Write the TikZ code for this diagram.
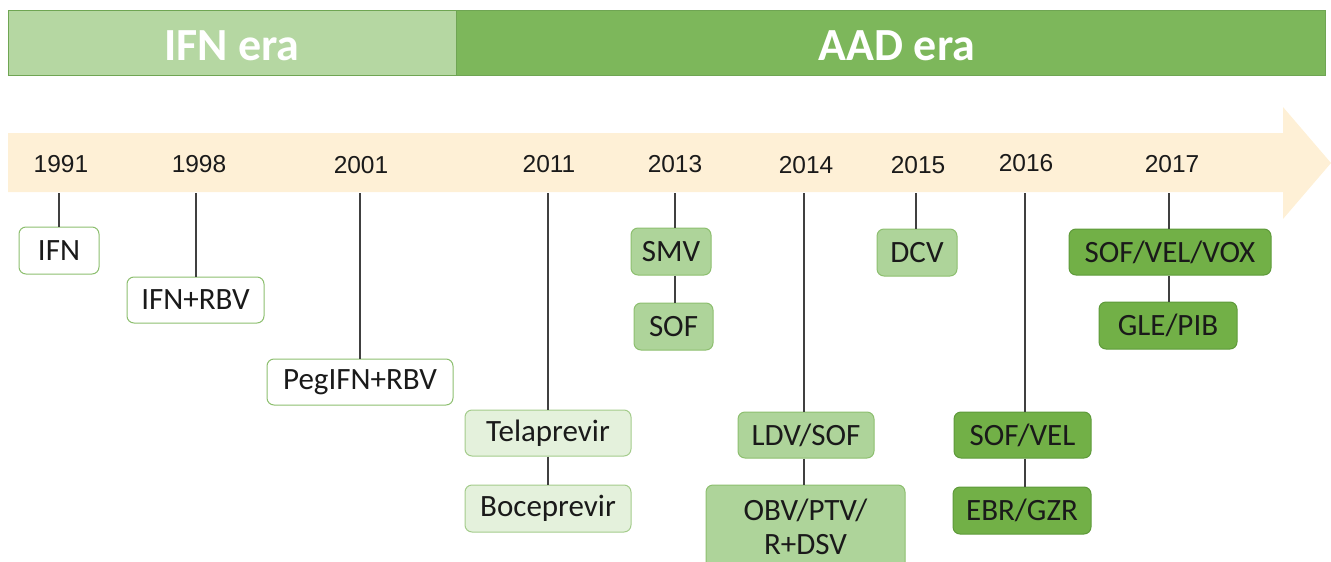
\documentclass[tikz,border=0pt]{standalone}
\usepackage{fontspec}
\newfontfamily\calfont{Carlito}
\newfontfamily\arifont{Liberation Sans}
\definecolor{bannerL}{HTML}{B5D7A2}
\definecolor{bannerD}{HTML}{7DB75B}
\definecolor{bannerEdge}{HTML}{6FA553}
\definecolor{arrowfill}{HTML}{FEF0D6}
\definecolor{edgeG}{HTML}{8DBF6F}
\definecolor{fillL}{HTML}{E4F1DC}
\definecolor{fillM}{HTML}{AED49A}
\definecolor{fillD}{HTML}{72B047}
\definecolor{edgeD}{HTML}{5E9A3A}
\definecolor{linec}{HTML}{404040}
\definecolor{txt}{HTML}{1A1A1A}
\tikzset{
  banner/.style={draw=bannerEdge, line width=1pt, minimum height=65pt, inner sep=0pt},
  bannertext/.style={inner sep=0pt, text=white, font=\calfont\bfseries\fontsize{46}{52}\selectfont},
  yearlbl/.style={font=\arifont\fontsize{24.5}{28}\selectfont, text=txt, inner sep=0pt},
  drug/.style={rectangle, rounded corners=7pt, line width=1pt, inner sep=0pt, text=txt, font=\calfont\fontsize{31}{34}\selectfont},
  wbox/.style={drug, draw=edgeG, fill=white},
  lbox/.style={drug, draw=edgeG!80, fill=fillL},
  mbox/.style={drug, draw=edgeG, fill=fillM},
  dbox/.style={drug, draw=edgeD, fill=fillD},
  conn/.style={draw=linec, line width=1.2pt},
}
\begin{document}
\begin{tikzpicture}[x=1pt,y=-1pt]
\useasboundingbox (0,0) rectangle (1331,562);
% banners
\node[banner, fill=bannerL, minimum width=448pt] (ifnera) at (232,42.5) {};
\node[banner, fill=bannerD, minimum width=869pt] (aadera) at (890.5,42.5) {};
\node[bannertext] (ifnlbl) at (232,46) {IFN era};
\node[bannertext] (aadlbl) at (897,46) {AAD era};
% timeline arrow
\fill[arrowfill] (8,133) -- (1283,133) -- (1283,107) -- (1331,163) -- (1283,219) -- (1283,192) -- (8,192) -- cycle;
% years
\node[yearlbl] (y1991) at (61,164) {1991};
\node[yearlbl] (y1998) at (199,164) {1998};
\node[yearlbl] (y2001) at (361,165) {2001};
\node[yearlbl] (y2011) at (549,164) {2011};
\node[yearlbl] (y2013) at (675,164) {2013};
\node[yearlbl] (y2014) at (806,165) {2014};
\node[yearlbl] (y2015) at (918,165) {2015};
\node[yearlbl] (y2016) at (1026,163) {2016};
\node[yearlbl] (y2017) at (1172,164) {2017};
% anchor points on the arrow
\coordinate (t1991) at (59,193);
\coordinate (t1998) at (196,193);
\coordinate (t2001) at (360,193);
\coordinate (t2011) at (548,193);
\coordinate (t2013) at (675,193);
\coordinate (t2014) at (804,193);
\coordinate (t2015) at (916,193);
\coordinate (t2016) at (1025,193);
\coordinate (t2017) at (1169,193);
% boxes
\node[wbox, minimum width=80pt, minimum height=47pt] (ifn) at (59,250.5) {IFN};
\node[wbox, minimum width=137pt, minimum height=46pt] (ifnrbv) at (195.5,300) {IFN+RBV};
\node[wbox, minimum width=186pt, minimum height=46pt] (peg) at (360,382) {PegIFN+RBV};
\node[lbox, minimum width=166pt, minimum height=46pt] (tela) at (548,433) {Telaprevir};
\node[lbox, minimum width=166pt, minimum height=47pt] (boce) at (548,508.5) {Boceprevir};
\node[mbox, minimum width=80pt, minimum height=47pt] (smv) at (671,251.5) {SMV};
\node[mbox, minimum width=79pt, minimum height=47pt] (sof) at (673.5,326.5) {SOF};
\node[mbox, minimum width=136pt, minimum height=46pt] (ldv) at (806,435) {LDV/SOF};
\node[mbox, minimum width=199pt, minimum height=84pt, align=center] (obv) at (805.5,527) {OBV/PTV/\\R+DSV};
\node[mbox, minimum width=80pt, minimum height=47pt] (dcv) at (917,252.5) {DCV};
\node[dbox, minimum width=137pt, minimum height=46pt] (sofvel) at (1022.5,435) {SOF/VEL};
\node[dbox, minimum width=138pt, minimum height=47pt] (ebr) at (1022,510.5) {EBR/GZR};
\node[dbox, minimum width=202pt, minimum height=46pt] (vox) at (1170,252) {SOF/VEL/VOX};
\node[dbox, minimum width=138pt, minimum height=47pt] (gle) at (1168,325.5) {GLE/PIB};
% connectors
\draw[conn] (t1991) -- (ifn.north -| t1991);
\draw[conn] (t1998) -- (ifnrbv.north -| t1998);
\draw[conn] (t2001) -- (peg.north -| t2001);
\draw[conn] (t2011) -- (tela.north -| t2011);
\draw[conn] (tela.south -| t2011) -- (boce.north -| t2011);
\draw[conn] (t2013) -- (smv.north -| t2013);
\draw[conn] (smv.south -| t2013) -- (sof.north -| t2013);
\draw[conn] (t2014) -- (ldv.north -| t2014);
\draw[conn] (ldv.south -| t2014) -- (obv.north -| t2014);
\draw[conn] (t2015) -- (dcv.north -| t2015);
\draw[conn] (t2016) -- (sofvel.north -| t2016);
\draw[conn] (sofvel.south -| t2016) -- (ebr.north -| t2016);
\draw[conn] (t2017) -- (vox.north -| t2017);
\draw[conn] (vox.south -| t2017) -- (gle.north -| t2017);
\end{tikzpicture}
\end{document}
